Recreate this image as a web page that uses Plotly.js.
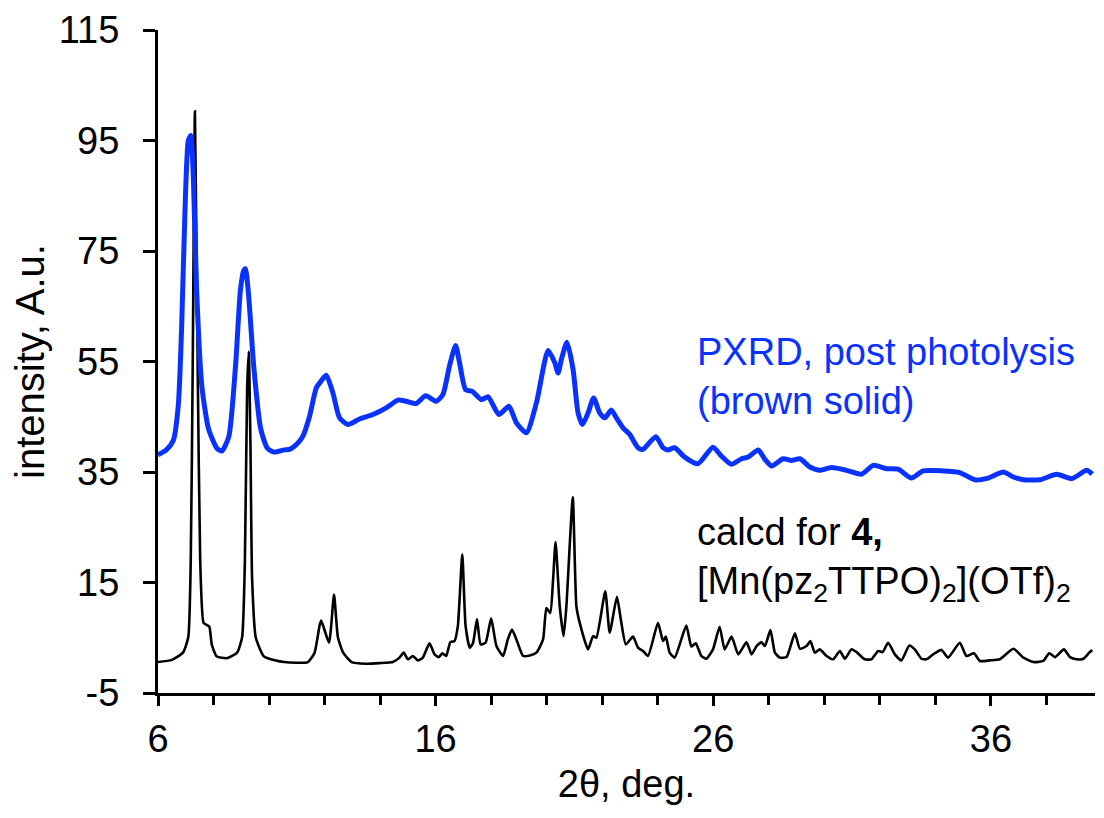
<!DOCTYPE html>
<html>
<head>
<meta charset="utf-8">
<script src="https://cdn.plot.ly/plotly-3.0.1.min.js"></script>
<style>
  html, body { margin: 0; padding: 0; background: #ffffff; }
  #chart { width: 1104px; height: 818px; }
</style>
</head>
<body>
<div id="chart"></div>
<script>
// Calculated pattern (black)
const calcX = [
  6.0, 6.5, 6.9, 7.09, 7.18, 7.25, 7.33, 7.43, 7.52, 7.64,
  7.76, 7.85, 7.94, 8.12, 8.48, 8.85, 9.03, 9.13, 9.21, 9.27,
  9.33, 9.39, 9.52, 9.82, 10.55, 11.4, 11.64, 11.82, 11.88, 12.16,
  12.34, 12.48, 12.67, 12.97, 13.5, 13.98, 14.46, 14.7, 14.85, 15.0,
  15.18, 15.36, 15.54, 15.78, 15.96, 16.12, 16.24, 16.38, 16.53, 16.68,
  16.8, 16.96, 17.08, 17.23, 17.35, 17.49, 17.62, 17.8, 18.0, 18.19,
  18.43, 18.6, 18.75, 18.91, 19.15, 19.39, 19.63, 19.87, 19.99, 20.13,
  20.23, 20.32, 20.47, 20.61, 20.71, 20.94, 21.07, 21.19, 21.49, 21.67,
  21.79, 22.11, 22.27, 22.53, 22.69, 22.85, 23.11, 23.29, 23.47, 23.65,
  24.01, 24.19, 24.29, 24.43, 24.61, 25.03, 25.21, 25.37, 25.57, 25.75,
  25.99, 26.23, 26.41, 26.66, 26.9, 27.2, 27.38, 27.56, 27.74, 27.86,
  28.06, 28.22, 28.4, 28.64, 28.94, 29.12, 29.36, 29.5, 29.66, 29.84,
  30.08, 30.32, 30.56, 30.74, 30.98, 31.16, 31.46, 31.7, 31.94, 32.1,
  32.3, 32.54, 32.78, 33.06, 33.26, 33.5, 33.68, 33.92, 34.22, 34.46,
  34.88, 35.12, 35.39, 35.6, 35.96, 36.32, 36.81, 37.17, 37.53, 37.89,
  38.1, 38.31, 38.63, 38.85, 39.09, 39.33, 39.54, 39.65
];
const calcY = [
  0.6, 1.0, 2.3, 5.1, 19, 54, 100.3, 54, 19, 7.7,
  7.3, 7.0, 3.7, 1.6, 1.3, 2.3, 5.1, 19, 50, 56.8,
  40, 15.6, 5.1, 1.6, 0.6, 0.6, 2.3, 7.2, 8.1, 4.1,
  12.8, 5.1, 2.3, 0.6, 0.3, 0.4, 0.6, 1.4, 2.3, 1.1,
  1.7, 0.9, 1.4, 4.0, 2.0, 1.5, 2.2, 1.7, 4.2, 4.4,
  7.1, 20.1, 7.1, 3.2, 4.1, 8.4, 3.8, 4.1, 8.5, 3.5,
  1.7, 4.7, 6.5, 4.7, 1.7, 1.8, 2.3, 4.7, 10.4, 9.5,
  15.5, 22.3, 10.7, 5.3, 10.7, 30.4, 10.7, 7.7, 2.9, 5.3,
  5.0, 13.4, 5.9, 12.4, 7.7, 3.8, 5.2, 3.2, 2.6, 1.7,
  7.7, 4.4, 5.2, 2.3, 1.4, 7.2, 3.4, 4.0, 1.7, 1.2,
  2.9, 7.0, 2.9, 5.2, 2.0, 4.2, 2.0, 3.5, 4.2, 3.5,
  6.4, 2.3, 1.4, 1.5, 5.8, 3.0, 3.5, 4.4, 2.3, 2.9,
  1.7, 1.1, 2.6, 1.2, 2.9, 2.4, 1.1, 1.1, 2.6, 2.4,
  4.1, 2.0, 0.9, 3.6, 2.9, 1.2, 1.1, 2.0, 2.8, 1.4,
  4.1, 1.7, 2.2, 0.8, 0.9, 1.1, 3.0, 1.4, 0.6, 0.8,
  2.2, 1.5, 2.9, 1.5, 1.1, 1.2, 2.3, 2.8
];

// Measured PXRD after photolysis (blue)
const pxrdX = [
  6.0, 6.3, 6.55, 6.73, 6.85, 6.97, 7.09, 7.18, 7.27, 7.39,
  7.58, 7.82, 8.12, 8.3, 8.55, 8.79, 8.97, 9.09, 9.15, 9.27,
  9.45, 9.7, 9.94, 10.18, 10.55, 10.74, 11.03, 11.22, 11.46, 11.7,
  11.88, 12.06, 12.3, 12.54, 12.84, 13.26, 13.74, 14.22, 14.64, 14.94,
  15.3, 15.64, 16.02, 16.26, 16.5, 16.72, 16.86, 17.08, 17.32, 17.65,
  17.89, 18.28, 18.64, 18.91, 19.27, 19.63, 20.05, 20.29, 20.41, 20.53,
  20.73, 20.95, 21.13, 21.29, 21.49, 21.69, 21.91, 22.09, 22.33, 22.51,
  22.75, 22.99, 23.29, 23.47, 23.93, 24.19, 24.37, 24.61, 24.97, 25.45,
  25.99, 26.29, 26.65, 27.02, 27.26, 27.62, 27.86, 28.1, 28.52, 28.82,
  29.12, 29.48, 29.84, 30.26, 30.8, 31.34, 31.76, 32.24, 32.66, 33.14,
  33.56, 34.28, 34.88, 35.42, 35.9, 36.45, 36.81, 37.17, 37.77, 38.37,
  38.91, 39.45, 39.65
];
const pxrdY = [
  38.1, 39.0, 40.7, 47, 61, 82, 94.9, 95.9, 88.9, 68,
  50.5, 42.8, 39.3, 38.8, 41.4, 54, 68, 71.5, 71.8, 66.6,
  54, 42.8, 39.3, 38.6, 39.0, 39.1, 40.2, 41.5, 45.1, 50.2,
  51.5, 52.5, 49.3, 44.8, 43.6, 44.6, 45.4, 46.6, 48.0, 47.8,
  47.4, 48.8, 47.8, 49.0, 54.2, 57.9, 54.8, 49.9, 49.6, 48.1,
  48.6, 45.4, 46.9, 43.9, 42.1, 47.5, 57.0, 54.8, 52.9, 55.4,
  58.5, 53.6, 45.7, 43.6, 45.7, 48.4, 45.7, 44.8, 46.2, 44.8,
  43.0, 41.8, 39.4, 39.1, 41.4, 39.4, 39.0, 39.4, 37.7, 36.5,
  39.5, 37.9, 36.4, 37.4, 37.7, 39.0, 37.3, 36.1, 37.4, 37.1,
  37.4, 35.9, 35.3, 35.8, 35.3, 34.6, 36.2, 35.6, 35.5, 33.9,
  35.2, 35.2, 34.9, 33.6, 33.9, 35.0, 34.1, 33.6, 33.6, 34.6,
  33.8, 35.3, 34.6
];

const yTicks = [-5, 15, 35, 55, 75, 95, 115];
const xMajorTicks = [6, 16, 26, 36];
const pxrdLabel = 'PXRD, post photolysis<br>(brown solid)';
const calcLabel = 'calcd for <b>4,</b><br>[Mn(pz<sub>2</sub>TTPO)<sub>2</sub>](OTf)<sub>2</sub>';
const xTitle = '2θ, deg.';
const yTitle = 'intensity, A.u.';

const FONT = 'Liberation Sans, Arial, Helvetica, sans-serif';
const BLUE = '#0a32ff';

const traces = [
  {
    x: calcX, y: calcY, type: 'scatter', mode: 'lines',
    line: { color: '#000000', width: 2.6, shape: 'spline', smoothing: 0.5 },
    hoverinfo: 'x+y', showlegend: false
  },
  {
    x: pxrdX, y: pxrdY, type: 'scatter', mode: 'lines',
    line: { color: BLUE, width: 5, shape: 'spline', smoothing: 0.6 },
    hoverinfo: 'x+y', showlegend: false
  }
];

const layout = {
  width: 1104, height: 818,
  margin: { l: 158, r: 9, t: 30, b: 125 },
  paper_bgcolor: '#ffffff', plot_bgcolor: '#ffffff',
  font: { family: FONT, color: '#000000', size: 37 },
  showlegend: false,
  xaxis: {
    range: [6, 39.75],
    tickmode: 'array', tickvals: xMajorTicks, ticktext: xMajorTicks.map(String),
    ticks: 'outside', ticklen: 10, tickwidth: 3, tickcolor: '#000',
    minor: { ticks: 'outside', ticklen: 9, tickwidth: 2.5, tickcolor: '#000', tick0: 6, dtick: 2 },
    showline: true, linewidth: 3, linecolor: '#000',
    showgrid: false, zeroline: false,
    tickfont: { family: FONT, size: 38, color: '#000' },
    title: { text: xTitle, font: { family: FONT, size: 38, color: '#000' }, standoff: 12 }
  },
  xaxis2: {
    overlaying: 'x', anchor: 'y', side: 'bottom',
    range: [6, 39.75],
    tickmode: 'array', tickvals: xMajorTicks,
    ticks: 'inside', ticklen: 9, tickwidth: 3, tickcolor: '#000',
    showticklabels: false, showline: false, showgrid: false, zeroline: false
  },
  yaxis: {
    range: [-5, 115],
    tickmode: 'array', tickvals: yTicks, ticktext: yTicks.map(String),
    ticks: 'outside', ticklen: 12, tickwidth: 3, tickcolor: '#000',
    ticklabelstandoff: 16,
    showline: true, linewidth: 3, linecolor: '#000',
    showgrid: false, zeroline: false,
    tickfont: { family: FONT, size: 38, color: '#000' },
    title: { text: yTitle, font: { family: FONT, size: 40, color: '#000' }, standoff: 2 }
  },
  annotations: [
    {
      text: pxrdLabel, xref: 'paper', yref: 'y', x: 0.573, y: 52.3,
      xanchor: 'left', yanchor: 'middle', align: 'left', showarrow: false,
      font: { family: FONT, size: 38, color: BLUE }
    },
    {
      text: calcLabel, xref: 'paper', yref: 'y', x: 0.573, y: 19.2,
      xanchor: 'left', yanchor: 'middle', align: 'left', showarrow: false,
      font: { family: FONT, size: 38, color: '#000' }
    }
  ]
};

Plotly.newPlot('chart', traces, layout, { displayModeBar: false, responsive: false });
</script>
</body>
</html>
